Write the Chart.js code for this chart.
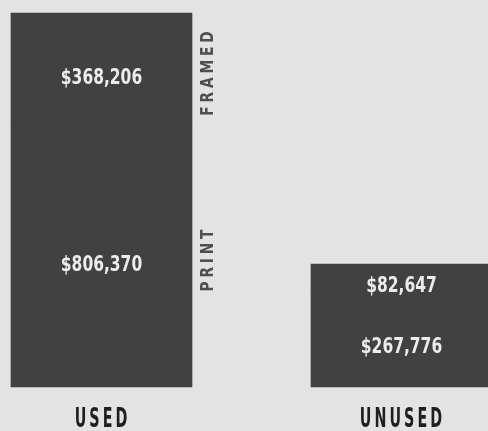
<!DOCTYPE html>
<html>
<head>
<meta charset="utf-8">
<script src="https://cdn.jsdelivr.net/npm/chart.js@4/dist/chart.umd.min.js"></script>
<style>
  html, body { margin: 0; padding: 0; background: #e3e3e3; }
  #wrap { width: 488px; height: 431px; }
</style>
</head>
<body>
<div id="wrap"><canvas id="printChart" width="488" height="431"></canvas></div>
<script>
const categories = ["USED", "UNUSED"];
const seriesNames = ["PRINT", "FRAMED"];
const printValues = [806370, 267776];
const framedValues = [368206, 82647];

const FONT = '"DejaVu Sans Condensed", "DejaVu Sans", sans-serif';
const BAR_COLOR = "#414141";

function money(v){
    return "$" + v.toLocaleString("en-US");
}

// draws condensed text (the original uses a compressed poster face)
function squeezed(ctx, text, x, y, sx){
    ctx.save();
    ctx.translate(x, y);
    ctx.scale(sx, 1);
    ctx.fillText(text, 0, 0);
    ctx.restore();
}

const textPlugin = {
    id: "texts",
    afterDatasetsDraw(chart){
        const ctx = chart.ctx;
        ctx.save();

        // values inside each segment
        ctx.font = "bold 21px " + FONT;
        ctx.fillStyle = "#ececec";
        ctx.textAlign = "center";
        ctx.textBaseline = "alphabetic";
        chart.data.datasets.forEach((ds, i) => {
            chart.getDatasetMeta(i).data.forEach((bar, j) => {
                const mid = (bar.y + bar.base) / 2;
                squeezed(ctx, money(ds.data[j]), bar.x, mid + 15, 0.82);
            });
        });

        // series names beside the first bar, rotated
        ctx.font = "bold 18px " + FONT;
        ctx.fillStyle = "#4e4e4e";
        ctx.letterSpacing = "4.5px";
        chart.data.datasets.forEach((ds, i) => {
            const bar = chart.getDatasetMeta(i).data[0];
            const x = bar.x + bar.width / 2 + 21;
            const y = (bar.y + bar.base) / 2;
            ctx.save();
            ctx.translate(x, y);
            ctx.rotate(-Math.PI / 2);
            ctx.scale(0.85, 1);
            ctx.fillText(ds.label, -3, 0);
            ctx.restore();
        });

        // category names under the bars, placed by the x scale
        const xScale = chart.scales.x;
        ctx.font = "bold 26px " + FONT;
        ctx.fillStyle = "#1f1f1f";
        ctx.letterSpacing = "5px";
        chart.data.labels.forEach((lab, i) => {
            const x = xScale.getPixelForValue(i) + 1;
            squeezed(ctx, lab, x, xScale.top + 40, 0.61);
        });
        ctx.restore();
    }
};

const ctx = document.getElementById("printChart");

new Chart(ctx, {
    type: "bar",
    data: {
        labels: categories,
        datasets: [
            { label: seriesNames[0], data: printValues, backgroundColor: BAR_COLOR, base: -53574 },
            { label: seriesNames[1], data: framedValues, backgroundColor: BAR_COLOR }
        ]
    },
    options: {
        responsive: false,
        animation: false,
        layout: { padding: { left: 101.5, right: 86.5, top: 13, bottom: 0 } },
        datasets: { bar: { barThickness: 181, borderWidth: 0, clip: false } },
        plugins: { legend: { display: false }, tooltip: { enabled: false } },
        scales: {
            x: {
                stacked: true,
                offset: false,
                grid: { display: false },
                border: { display: false },
                ticks: { display: false },
                afterFit(scale){ scale.height = 44; }
            },
            y: {
                stacked: true,
                display: false,
                min: -53574,
                max: 1174576
            }
        }
    },
    plugins: [textPlugin]
});
</script>
</body>
</html>
